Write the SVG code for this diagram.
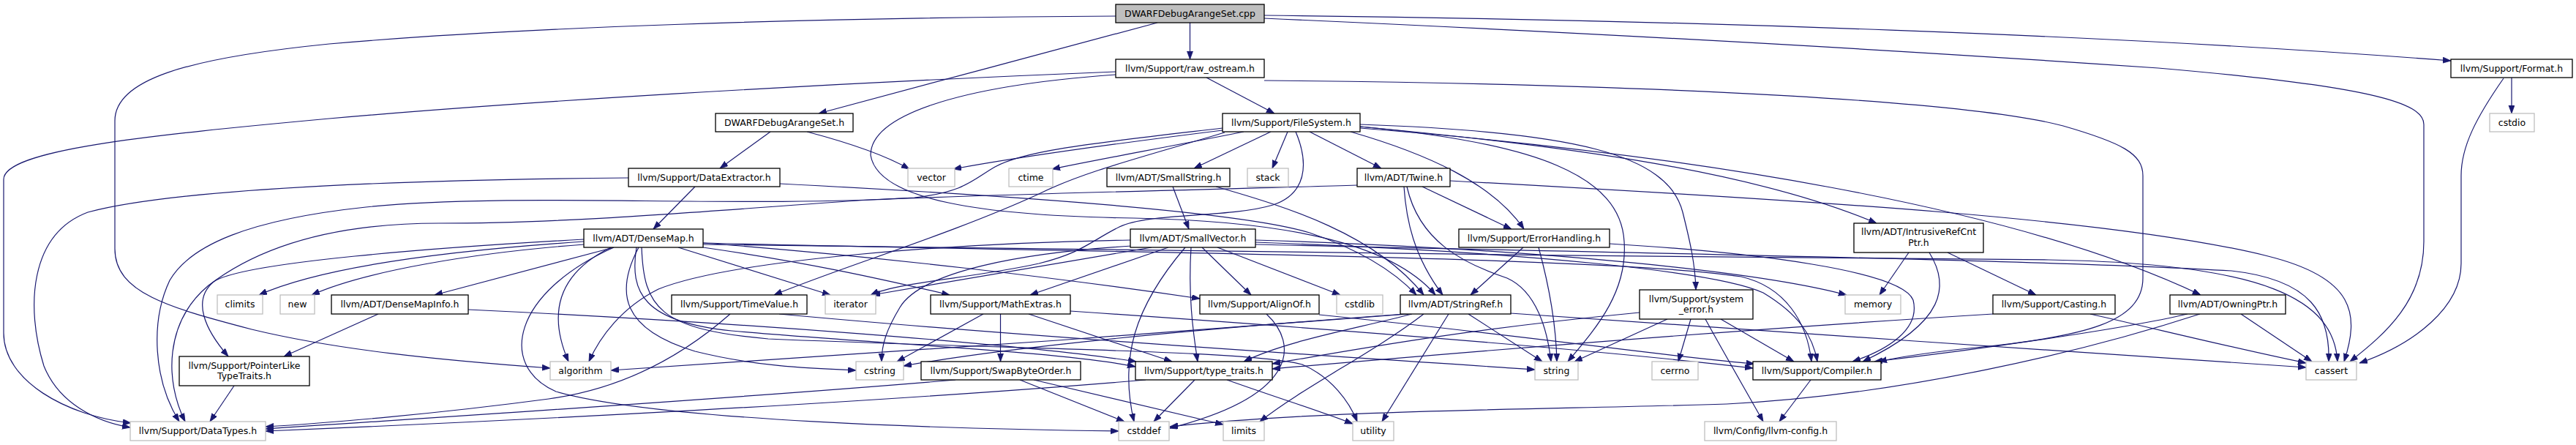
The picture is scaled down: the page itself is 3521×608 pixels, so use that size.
<svg xmlns="http://www.w3.org/2000/svg" width="3521" height="608" viewBox="0 0 3521 608">
<defs>
<marker id="a" markerUnits="userSpaceOnUse" markerWidth="12" markerHeight="9" refX="11" refY="4" orient="auto" viewBox="0 0 12 9">
<path d="M0,0 L11,4 L0,8 z" fill="#191970" stroke="#191970" stroke-width="0.8"/>
</marker>
<style>
rect{fill:#ffffff;stroke:#000000;stroke-width:1.3}
.g rect{stroke:#bfbfbf}
#n_cpp rect{fill:#bfbfbf}
text{font-family:"DejaVu Sans","Liberation Sans",sans-serif;font-size:12.5px;text-anchor:middle;fill:#000000}
.e path{fill:none;stroke:#191970;stroke-width:1.2;marker-end:url(#a)}
</style>
</defs>
<rect x="0" y="0" width="3521" height="608" style="fill:#ffffff;stroke:none"/>
<g id="edges" class="e">
<path d="M1626.5,31 L1626.5,81"/>
<path d="M1582,31 C1450,66 1250,120 1119,155"/>
<path d="M1728,21 C2300,27 2900,48 3350,83"/>
<path d="M1728,25 Q2400,55 2950,93 C3240,118 3313,140 3313,170 L3313,330 C3313,410 3262,455 3212,494"/>
<path d="M1525,22 C1100,24 700,38 450,60 C250,80 157,110 157,165 L157,340 C157,400 230,420 344,450 C460,478 600,492 752,503"/>
<path d="M1649,106 L1742,155"/>
<path d="M1525,98 C1100,115 700,140 450,162 C200,185 5,205 5,245 L5,455 C5,520 90,568 179,578"/>
<path d="M1728,110 C2300,115 2700,140 2820,172 C2900,195 2929,210 2929,240 L2929,380 C2929,440 2850,460 2700,475 C2640,481 2600,487 2568,494"/>
<path d="M1525,102 C1300,118 1190,160 1190,212 C1200,275 1350,295 1550,298 C1750,302 1900,330 1962,403"/>
<path d="M3433,106 L3433,155"/>
<path d="M3422,107 C3385,160 3364,200 3364,240 L3364,360 C3364,420 3300,470 3225,496"/>
<path d="M1053,180 L984,230"/>
<path d="M1103,180 C1160,195 1210,212 1243,231"/>
<path d="M1671,178 C1550,193 1400,213 1303,231"/>
<path d="M1700,180 C1600,200 1500,218 1438,231"/>
<path d="M1671,175 C1500,195 1400,205 1360,228 C1330,245 1320,262 1250,270 C1000,285 700,262 500,283 C340,300 260,335 232,383 C205,440 210,520 245,576"/>
<path d="M1674,181 C1560,215 1480,235 1420,265 C1300,320 1150,365 1058,403"/>
<path d="M1737,180 L1632,230"/>
<path d="M1760,180 L1739,230"/>
<path d="M1771,180 C1790,225 1785,265 1740,280 C1680,298 1570,290 1530,310 C1490,330 1480,345 1420,360 C1330,380 1230,385 1190,403"/>
<path d="M1790,180 L1888,230"/>
<path d="M1846,180 C1950,210 2040,250 2083,313"/>
<path d="M1859,173 C2100,195 2215,240 2220,330 C2225,400 2180,450 2143,494"/>
<path d="M1859,170 C2150,180 2280,210 2300,290 C2310,330 2317,360 2318,396"/>
<path d="M1859,173 C2150,200 2400,235 2565,305"/>
<path d="M1859,175 C2300,210 2750,280 3008,403"/>
<path d="M950,255 L893,313"/>
<path d="M1066,251 C1400,268 1700,290 1790,318 C1855,340 1905,370 1936,403"/>
<path d="M859,243 C600,245 250,255 120,290 C40,320 35,420 60,500 C80,550 130,576 178,584"/>
<path d="M1603,255 L1625,313"/>
<path d="M1662,255 C1760,283 1880,320 1946,403"/>
<path d="M1919,255 C1922,300 1932,350 1972,403"/>
<path d="M1944,255 L2066,313"/>
<path d="M1923,255 C1940,330 2000,360 2060,380 C2100,398 2115,450 2120,494"/>
<path d="M1982,247 C2500,275 2900,300 3100,350 C3220,380 3225,430 3204,494"/>
<path d="M1855,253 C1700,258 1400,264 1190,273 C1000,285 800,305 600,305 C450,305 350,340 285,390 C225,440 225,520 253,576"/>
<path d="M839,338 L594,403"/>
<path d="M798,330 C650,340 450,360 354,403"/>
<path d="M798,334 C650,345 500,370 426,403"/>
<path d="M798,327 C600,338 330,358 292,385 C262,410 280,450 312,487"/>
<path d="M835,338 C770,370 745,420 777,494"/>
<path d="M839,338 C700,400 680,500 760,535 C900,575 1300,586 1529,589"/>
<path d="M961,338 C1100,358 1200,380 1298,403"/>
<path d="M927,338 L1135,403"/>
<path d="M873,338 C840,400 850,450 950,480 C1030,500 1100,503 1170,506"/>
<path d="M877,338 C880,420 900,450 1050,463 C1400,478 1700,478 1780,498 C1820,515 1845,550 1855,576"/>
<path d="M870,338 C860,400 880,440 1000,452 C1200,470 1450,480 1552,501"/>
<path d="M961,332 C1200,350 1450,380 1640,408"/>
<path d="M961,332 C1500,345 2200,350 2380,378 C2440,392 2470,440 2476,494"/>
<path d="M961,334 C1400,342 2200,350 2800,355 C3100,360 3190,410 3195,494"/>
<path d="M1597,338 L1408,403"/>
<path d="M1574,338 L1192,403"/>
<path d="M1547,336 C1400,345 1260,370 1230,420 C1212,450 1205,470 1205,494"/>
<path d="M1545,328 C1300,332 1000,355 900,395 C850,420 820,460 805,494"/>
<path d="M1628,338 C1624,400 1630,450 1637,494"/>
<path d="M1620,338 C1550,420 1530,490 1550,576"/>
<path d="M1643,338 L1710,403"/>
<path d="M1664,338 L1832,403"/>
<path d="M1716,328 C2100,340 2400,370 2524,403"/>
<path d="M1716,331 C2100,345 2350,372 2410,400 C2460,430 2478,460 2484,494"/>
<path d="M1716,334 C2200,345 2800,355 3050,370 C3160,382 3185,430 3183,494"/>
<path d="M2082,338 L2010,403"/>
<path d="M2103,338 C2120,400 2127,450 2128,494"/>
<path d="M2200,333 C2400,345 2600,370 2615,410 C2625,450 2580,478 2532,494"/>
<path d="M2609,345 L2569,403"/>
<path d="M2662,345 L2783,403"/>
<path d="M2637,345 C2665,390 2660,440 2546,494"/>
<path d="M517,429 L388,487"/>
<path d="M640,423 C1000,440 1400,470 1553,494"/>
<path d="M998,429 C940,480 860,530 750,545 C600,565 450,578 363,583"/>
<path d="M1065,429 C1400,460 1800,485 2098,505"/>
<path d="M1344,429 L1226,494"/>
<path d="M1367.5,429 L1367.5,494"/>
<path d="M1406,429 L1602,494"/>
<path d="M1463,425 C1900,455 2200,480 2396,503"/>
<path d="M1803,430 C2100,460 2300,490 2398,497"/>
<path d="M1731,429 C1775,470 1775,540 1599,585"/>
<path d="M1930,429 C1850,450 1760,465 1700,494"/>
<path d="M1920,429 C1700,445 1400,470 1235,500"/>
<path d="M1925,429 C1600,455 1100,490 835,506"/>
<path d="M2065,428 C2300,445 2900,485 3152,502"/>
<path d="M1946,429 C1880,480 1780,530 1722,576"/>
<path d="M2007,429 L2108,494"/>
<path d="M1980,429 L1889,576"/>
<path d="M2279,436 L2152,494"/>
<path d="M2311,436 L2294,494"/>
<path d="M2352,436 L2452,494"/>
<path d="M2331,436 C2355,480 2390,540 2410,576"/>
<path d="M2241,427 C2000,450 1850,478 1739,497"/>
<path d="M2724,429 C2300,455 1900,490 1739,504"/>
<path d="M2857,429 C2950,450 3050,475 3152,496"/>
<path d="M2990,429 C2900,450 2700,478 2562,494"/>
<path d="M3007,429 C2850,480 2600,540 2360,552 C2100,560 1800,560 1599,583"/>
<path d="M3063,429 L3160,494"/>
<path d="M320,527 L287,576"/>
<path d="M1306,519 C1000,545 600,570 363,586"/>
<path d="M1394,519 L1537,576"/>
<path d="M1413,519 L1672,580"/>
<path d="M1566,519 C1200,550 700,575 363,589"/>
<path d="M1633,519 L1577,576"/>
<path d="M1677,519 C1750,545 1800,560 1849,579"/>
<path d="M2475,519 L2432,576"/>
</g>
<g id="n_cpp"><rect x="1525" y="6" width="203" height="25"/><text x="1626.5" y="22.5">DWARFDebugArangeSet.cpp</text></g>
<g id="n_rawos"><rect x="1525" y="81" width="203" height="25"/><text x="1626.5" y="97.5">llvm/Support/raw_ostream.h</text></g>
<g id="n_format"><rect x="3350" y="81" width="166" height="25"/><text x="3433" y="97.5">llvm/Support/Format.h</text></g>
<g id="n_dah"><rect x="978" y="155" width="188" height="25"/><text x="1072" y="171.5">DWARFDebugArangeSet.h</text></g>
<g id="n_fs"><rect x="1671" y="155" width="188" height="25"/><text x="1765" y="171.5">llvm/Support/FileSystem.h</text></g>
<g id="n_cstdio" class="g"><rect x="3403" y="155" width="61" height="25"/><text x="3433.5" y="171.5">cstdio</text></g>
<g id="n_dext"><rect x="859" y="230" width="207" height="25"/><text x="962.5" y="246.5">llvm/Support/DataExtractor.h</text></g>
<g id="n_vector" class="g"><rect x="1241" y="230" width="64" height="25"/><text x="1273" y="246.5">vector</text></g>
<g id="n_ctime" class="g"><rect x="1379" y="230" width="60" height="25"/><text x="1409" y="246.5">ctime</text></g>
<g id="n_sstr"><rect x="1513" y="230" width="168" height="25"/><text x="1597" y="246.5">llvm/ADT/SmallString.h</text></g>
<g id="n_stack" class="g"><rect x="1705" y="230" width="56" height="25"/><text x="1733" y="246.5">stack</text></g>
<g id="n_twine"><rect x="1855" y="230" width="127" height="25"/><text x="1918.5" y="246.5">llvm/ADT/Twine.h</text></g>
<g id="n_densemap"><rect x="798" y="313" width="163" height="25"/><text x="879.5" y="329.5">llvm/ADT/DenseMap.h</text></g>
<g id="n_svec"><rect x="1545" y="313" width="171" height="25"/><text x="1630.5" y="329.5">llvm/ADT/SmallVector.h</text></g>
<g id="n_errh"><rect x="1994" y="313" width="206" height="25"/><text x="2097" y="329.5">llvm/Support/ErrorHandling.h</text></g>
<g id="n_irc"><rect x="2534" y="305" width="177" height="40"/><text x="2622.5" y="321">llvm/ADT/IntrusiveRefCnt</text><text x="2622.5" y="335.5">Ptr.h</text></g>
<g id="n_climits" class="g"><rect x="297" y="403" width="62" height="26"/><text x="328" y="419.5">climits</text></g>
<g id="n_new" class="g"><rect x="383" y="403" width="47" height="26"/><text x="406.5" y="419.5">new</text></g>
<g id="n_dmi"><rect x="453" y="403" width="187" height="26"/><text x="546.5" y="419.5">llvm/ADT/DenseMapInfo.h</text></g>
<g id="n_tv"><rect x="918" y="403" width="185" height="26"/><text x="1010.5" y="419.5">llvm/Support/TimeValue.h</text></g>
<g id="n_iterator" class="g"><rect x="1128" y="403" width="69" height="26"/><text x="1162.5" y="419.5">iterator</text></g>
<g id="n_mathx"><rect x="1272" y="403" width="191" height="26"/><text x="1367.5" y="419.5">llvm/Support/MathExtras.h</text></g>
<g id="n_alignof"><rect x="1640" y="403" width="163" height="26"/><text x="1721.5" y="419.5">llvm/Support/AlignOf.h</text></g>
<g id="n_cstdlib" class="g"><rect x="1827" y="403" width="63" height="26"/><text x="1858.5" y="419.5">cstdlib</text></g>
<g id="n_sref"><rect x="1914" y="403" width="151" height="26"/><text x="1989.5" y="419.5">llvm/ADT/StringRef.h</text></g>
<g id="n_syserr"><rect x="2241" y="396" width="155" height="40"/><text x="2318.5" y="412.5">llvm/Support/system</text><text x="2318.5" y="427">_error.h</text></g>
<g id="n_memory" class="g"><rect x="2522" y="403" width="76" height="26"/><text x="2560" y="419.5">memory</text></g>
<g id="n_casting"><rect x="2724" y="403" width="167" height="26"/><text x="2807.5" y="419.5">llvm/Support/Casting.h</text></g>
<g id="n_owning"><rect x="2966" y="403" width="158" height="26"/><text x="3045" y="419.5">llvm/ADT/OwningPtr.h</text></g>
<g id="n_plt"><rect x="245" y="487" width="178" height="40"/><text x="334" y="503.5">llvm/Support/PointerLike</text><text x="334" y="518">TypeTraits.h</text></g>
<g id="n_algorithm" class="g"><rect x="752" y="494" width="83" height="25"/><text x="793.5" y="510.5">algorithm</text></g>
<g id="n_cstring" class="g"><rect x="1170" y="494" width="65" height="25"/><text x="1202.5" y="510.5">cstring</text></g>
<g id="n_swap"><rect x="1259" y="494" width="218" height="25"/><text x="1368" y="510.5">llvm/Support/SwapByteOrder.h</text></g>
<g id="n_tt"><rect x="1552" y="494" width="187" height="25"/><text x="1645.5" y="510.5">llvm/Support/type_traits.h</text></g>
<g id="n_string" class="g"><rect x="2098" y="494" width="59" height="25"/><text x="2127.5" y="510.5">string</text></g>
<g id="n_cerrno" class="g"><rect x="2258" y="494" width="63" height="25"/><text x="2289.5" y="510.5">cerrno</text></g>
<g id="n_compiler"><rect x="2396" y="494" width="175" height="25"/><text x="2483.5" y="510.5">llvm/Support/Compiler.h</text></g>
<g id="n_cassert" class="g"><rect x="3152" y="494" width="69" height="25"/><text x="3186.5" y="510.5">cassert</text></g>
<g id="n_datatypes" class="g"><rect x="178" y="576" width="185" height="26"/><text x="270.5" y="592.5">llvm/Support/DataTypes.h</text></g>
<g id="n_cstddef" class="g"><rect x="1529" y="576" width="69" height="26"/><text x="1563.5" y="592.5">cstddef</text></g>
<g id="n_limits" class="g"><rect x="1672" y="576" width="56" height="26"/><text x="1700" y="592.5">limits</text></g>
<g id="n_utility" class="g"><rect x="1849" y="576" width="56" height="26"/><text x="1877" y="592.5">utility</text></g>
<g id="n_llvmconfig" class="g"><rect x="2330" y="576" width="180" height="26"/><text x="2420" y="592.5">llvm/Config/llvm-config.h</text></g>
</svg>
